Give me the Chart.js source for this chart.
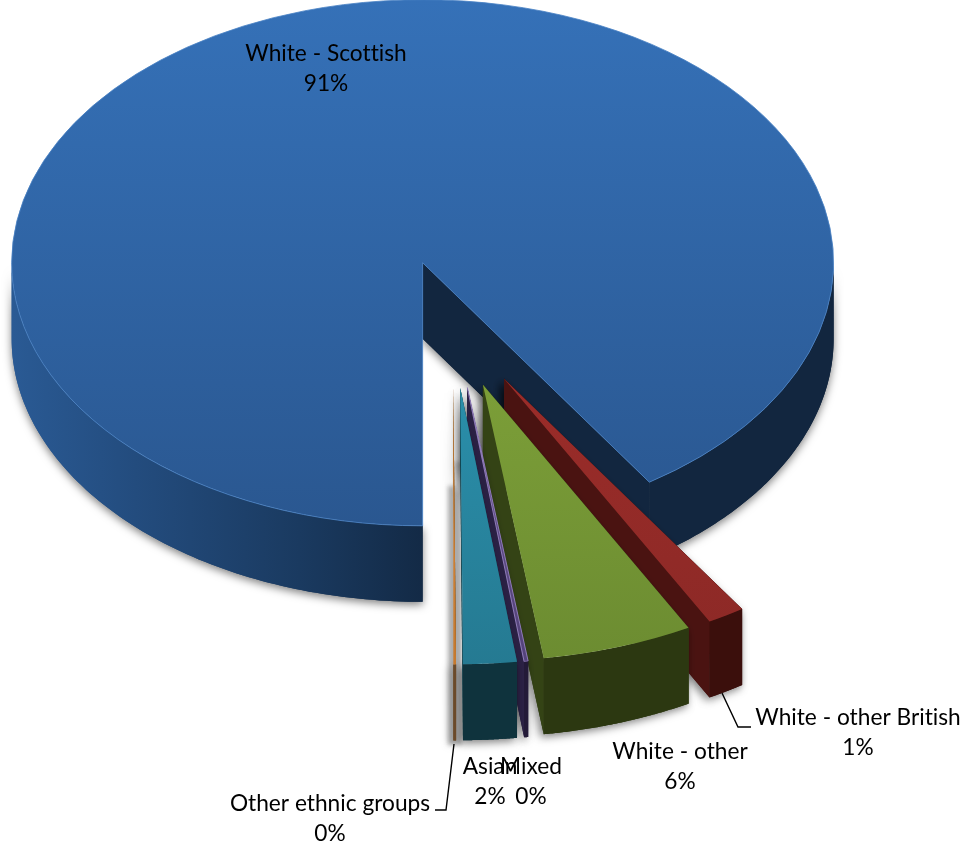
<!DOCTYPE html>
<html>
<head>
<meta charset="utf-8">
<style>
  html, body { margin: 0; padding: 0; background: #fff; }
  canvas { display: block; }
</style>
<script src="https://cdn.jsdelivr.net/npm/chart.js@4/dist/chart.umd.min.js"></script>
</head>
<body>
<canvas id="pie" width="964" height="844"></canvas>
<script>
// values, the labels round them
const categories = ['White - Scottish', 'White - other British', 'White - other', 'Mixed', 'Asian', 'Other ethnic groups'];
const shares = [90.7, 1.4, 5.65, 0.15, 2.0, 0.1];

const topLight = ['#3571b8', '#a92f2c', '#8bb03f', '#6a5596', '#2fa3c2', '#e6913c'];
const topDark = ['#2a5790', '#8c2926', '#6c8c31', '#54437a', '#257a92', '#c77a2e'];
const faceCols = ['#12263f', '#4a1311', '#344315', '#2b2145', '#124552', '#6d4a22'];
const wallCols = ['#12263f', '#3b0f0c', '#2c3811', '#231a38', '#0f333d', '#6b4a2a'];

// the 3D look: where the flat pie lands on the page
const RADIUS = 411, SQUASH = 0.64, DEPTH = 76;
const CENTER = { x: 450, y: 321 };
const explode = [95, 105, 105, 105, 105, 105];
const nudgeX = [0, 0, 0, 3, 3, 3];
const nearScale = [1, 1.05, 1.05, 1.05, 1.05, 1.05];

function apex(arc, i) {
  const mid = (arc.startAngle + arc.endAngle) / 2;
  return {
    x: CENTER.x + nudgeX[i] + Math.cos(mid) * explode[i],
    y: CENTER.y + SQUASH * Math.sin(mid) * explode[i]
  };
}

function project(arc, i, ang, r) {
  const a = apex(arc, i), s = nearScale[i];
  return { x: a.x + s * r * Math.cos(ang), y: a.y + SQUASH * s * r * Math.sin(ang) };
}

function faceWall(ctx, arc, i, ang) {
  const a = project(arc, i, ang, 0), b = project(arc, i, ang, RADIUS);
  ctx.fillStyle = faceCols[i];
  ctx.beginPath();
  ctx.moveTo(a.x, a.y);
  ctx.lineTo(b.x, b.y);
  ctx.lineTo(b.x, b.y + DEPTH);
  ctx.lineTo(a.x, a.y + DEPTH);
  ctx.closePath();
  ctx.fill();
}

function outerWall(ctx, arc, i, from, to) {
  if (to <= from) return;
  const pts = [];
  for (let k = 0; k <= 90; k++) pts.push(project(arc, i, from + (to - from) * k / 90, RADIUS));
  ctx.beginPath();
  pts.forEach((p, k) => k ? ctx.lineTo(p.x, p.y) : ctx.moveTo(p.x, p.y));
  pts.reverse().forEach(p => ctx.lineTo(p.x, p.y + DEPTH));
  ctx.closePath();
  ctx.fill();
}

function drawWalls(ctx, arc, i, grad) {
  const TAU = Math.PI * 2;
  faceWall(ctx, arc, i, arc.startAngle);
  faceWall(ctx, arc, i, arc.endAngle);
  if (i === 0) {
    // only the part of the rim facing the viewer
    ctx.fillStyle = grad;
    outerWall(ctx, arc, i, arc.startAngle, Math.PI);
    ctx.fillStyle = wallCols[0];
    outerWall(ctx, arc, i, TAU, arc.endAngle);
  } else {
    ctx.fillStyle = wallCols[i];
    outerWall(ctx, arc, i, arc.startAngle % TAU, arc.endAngle % TAU);
  }
}

const pie3d = {
  id: 'pie3d',
  beforeDatasetDraw(chart, args) {
    const ctx = chart.ctx;
    const arcs = args.meta.data;
    const x0 = chart.chartArea.left + chart.chartArea.width / 2;
    const y0 = chart.chartArea.top + chart.chartArea.height / 2;

    // blue wall, shaded left to right
    const grad = ctx.createLinearGradient(12, 0, 423, 0);
    grad.addColorStop(0, '#2a5a94');
    grad.addColorStop(0.3, '#234c7e');
    grad.addColorStop(0.7, '#1a3a60');
    grad.addColorStop(1, '#132a46');

    // soft shadow beside the thin slices
    ctx.save();
    ctx.filter = 'blur(2px)';
    ctx.fillStyle = '#b4b4b4';
    ctx.fillRect(448, 486, 14, 259);
    ctx.fillStyle = '#c8c8c8';
    ctx.fillRect(455, 462, 7, 30);
    ctx.restore();

    arcs.forEach((arc, i) => {
      ctx.save();
      ctx.shadowColor = 'rgba(0,0,0,0.5)';
      ctx.shadowBlur = 8;
      ctx.shadowOffsetX = i ? -3 : 0;
      ctx.shadowOffsetY = 3;
      drawWalls(ctx, arc, i, grad);
      ctx.restore();
      drawWalls(ctx, arc, i, grad);
    });

    arcs.forEach((arc, i) => {
      const a = apex(arc, i), s = nearScale[i];
      ctx.save();
      ctx.translate(a.x, a.y);
      ctx.scale(s, SQUASH * s);
      ctx.translate(-x0, -y0);
      arc.draw(ctx);
      ctx.restore();
    });
    return false;
  },
  afterDraw(chart) {
    const ctx = chart.ctx;
    ctx.save();
    ctx.strokeStyle = '#000';
    ctx.lineWidth = 1.4;
    ctx.beginPath();
    ctx.moveTo(751, 727); ctx.lineTo(738, 727); ctx.lineTo(722, 693);
    ctx.moveTo(435, 810); ctx.lineTo(446, 810); ctx.lineTo(454, 744);
    ctx.stroke();

    ctx.font = '22.7px Lato, "Open Sans", sans-serif';
    ctx.letterSpacing = '0.01px';
    ctx.fillStyle = '#000';
    ctx.textAlign = 'center';
    ctx.textBaseline = 'middle';
    const where = [[326, 54], [858, 718], [680, 752], [531, 767], [490, 767], [330, 804]];
    categories.forEach((name, i) => {
      ctx.fillText(name, where[i][0], where[i][1]);
      ctx.fillText(Math.round(shares[i]) + '%', where[i][0], where[i][1] + 30);
    });
    ctx.restore();
  }
};

new Chart(document.getElementById('pie'), {
  type: 'pie',
  data: {
    labels: categories,
    datasets: [{
      data: shares,
      backgroundColor(c) {
        const g = c.chart.ctx.createLinearGradient(0, 11, 0, 833);
        g.addColorStop(0, topLight[c.dataIndex]);
        g.addColorStop(1, topDark[c.dataIndex]);
        return g;
      },
      borderColor: ['#4a82c4', 'rgba(0,0,0,0)', 'rgba(0,0,0,0)', '#8d7ab5', 'rgba(0,0,0,0)', 'rgba(0,0,0,0)'],
      borderWidth: 1
    }]
  },
  options: {
    responsive: false,
    animation: false,
    events: [],
    rotation: 180,
    radius: RADIUS,
    plugins: { legend: { display: false }, tooltip: { enabled: false } }
  },
  plugins: [pie3d]
});
</script>
</body>
</html>
